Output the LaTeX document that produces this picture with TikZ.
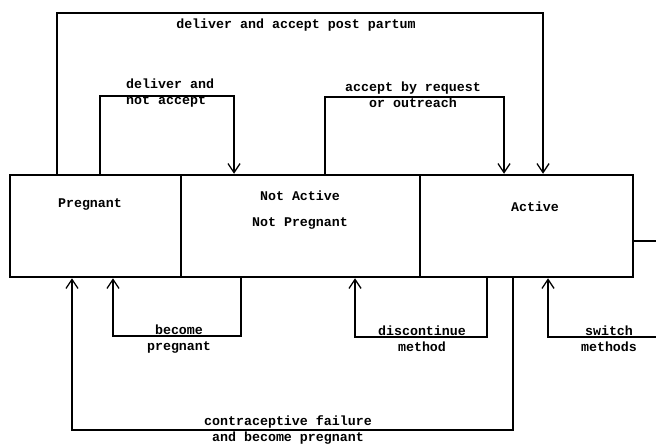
\documentclass[tikz,border=0pt]{standalone}
\usepackage{fontspec}
\setmonofont{Liberation Mono}
\usetikzlibrary{arrows.meta}
\begin{document}
\begin{tikzpicture}[x=1pt,y=-1pt,
  statebox/.style={draw,line width=2.5pt,rectangle,inner sep=0pt,minimum height=102pt},
  flow/.style={draw,line width=1.2pt},
  flowarrow/.style={flow,-{Straight Barb[length=9pt,width=12pt,line width=1.3pt]}},
  lbl/.style={font=\ttfamily\bfseries\fontsize{13.3}{16}\selectfont,align=center,inner sep=0pt},
]
\useasboundingbox (0,0) rectangle (656,444);

% the three states
\node[statebox,minimum width=171pt] (preg) at (95.5,226) {};
\node[statebox,minimum width=239pt] (nap) at (300.5,226) {};
\node[statebox,minimum width=213pt] (act) at (526.5,226) {};

\node[lbl] (tpreg) at (90,204) {Pregnant};
\node[lbl,font=\ttfamily\bfseries\fontsize{13.3}{26}\selectfont] (tnap) at (300,210) {Not Active\\Not Pregnant};
\node[lbl] (tact) at (535,207) {Active};

% corner points of the transition paths
\coordinate (ppL) at (57,13);   \coordinate (ppR) at (543,13);
\coordinate (dnL) at (100,96);  \coordinate (dnR) at (234,96);
\coordinate (arL) at (325,97);  \coordinate (arR) at (504,97);
\coordinate (bpR) at (241,336); \coordinate (bpL) at (113,336);
\coordinate (dmR) at (487,337); \coordinate (dmL) at (355,337);
\coordinate (swE) at (656,337); \coordinate (swL) at (548,337);
\coordinate (exE) at (656,241);
\coordinate (cfR) at (513,430); \coordinate (cfL) at (72,430);

% transitions above the states
\draw[flowarrow] (preg.north -| ppL) -- (ppL) -- (ppR) -- (act.north -| ppR);
\draw[flowarrow] (preg.north -| dnL) -- (dnL) -- (dnR) -- (nap.north -| dnR);
\draw[flowarrow] (nap.north -| arL) -- (arL) -- (arR) -- (act.north -| arR);

% transitions below the states
\draw[flowarrow] (nap.south -| bpR) -- (bpR) -- (bpL) -- (preg.south -| bpL);
\draw[flowarrow] (act.south -| dmR) -- (dmR) -- (dmL) -- (nap.south -| dmL);
\draw[flowarrow] (swE) -- (swL) -- (act.south -| swL);
\draw[flowarrow] (act.south -| cfR) -- (cfR) -- (cfL) -- (preg.south -| cfL);
\draw[flow] (act.east |- exE) -- (exE);

% transition labels
\node[lbl] (lpp) at (296,25) {deliver and accept post partum};
\node[lbl,align=left,anchor=west] (ldn) at (126,93) {deliver and\\not accept};
\node[lbl] (lar) at (413,94.5) {accept by request\\or outreach};
\node[lbl] (lbp) at (179,339) {become\\pregnant};
\node[lbl] (ldm) at (422,339) {discontinue\\method};
\node[lbl] (lsw) at (609,339) {switch\\methods};
\node[lbl] (lcf) at (288,429.5) {contraceptive failure\\and become pregnant};
\end{tikzpicture}
\end{document}
